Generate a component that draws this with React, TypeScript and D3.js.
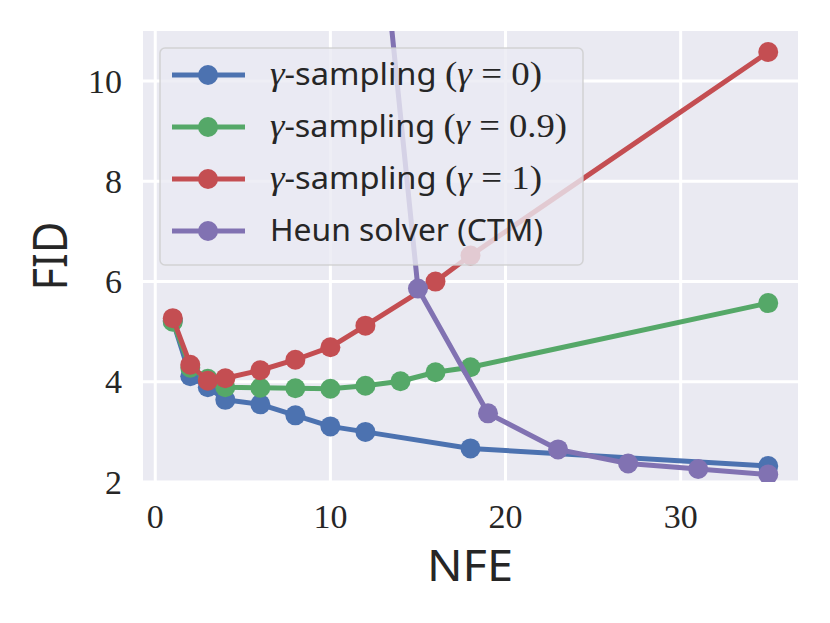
import * as d3 from "d3";
import React from "react";

// NFE values and FID readings per method
const nfeG0 = [1, 2, 3, 4, 6, 8, 10, 12, 18, 35];
const fidG0 = [5.22, 4.11, 3.89, 3.64, 3.55, 3.33, 3.11, 3.0, 2.67, 2.32];
const nfeG09 = [1, 2, 3, 4, 6, 8, 10, 12, 14, 16, 18, 35];
const fidG09 = [5.2, 4.28, 4.06, 3.89, 3.88, 3.87, 3.86, 3.92, 4.01, 4.19, 4.29, 5.57];
const nfeG1 = [1, 2, 3, 4, 6, 8, 10, 12, 16, 18, 35];
const fidG1 = [5.27, 4.34, 4.02, 4.07, 4.23, 4.44, 4.69, 5.12, 6.0, 6.52, 10.58];
const nfeHeun = [11, 15, 19, 23, 27, 31, 35];
const fidHeun = [19.7, 5.86, 3.37, 2.65, 2.37, 2.26, 2.15];

const xTicks = [0, 10, 20, 30];
const yTicks = [2, 4, 6, 8, 10];

const SANS = "'Noto Sans', 'DejaVu Sans', sans-serif";
const SERIF = "'Liberation Serif', 'DejaVu Serif', serif";

type Part = { t: string; serif?: boolean; italic?: boolean };

const gammaLabel = (v: string): Part[] => [
  { t: "γ", serif: true, italic: true },
  { t: "-sampling " },
  { t: "(", serif: true },
  { t: "γ", serif: true, italic: true },
  { t: " = " + v + ")", serif: true },
];

const series: { color: string; nfe: number[]; fid: number[]; label: Part[]; len: number }[] = [
  { color: "#4c72b0", nfe: nfeG0, fid: fidG0, label: gammaLabel("0"), len: 272 },
  { color: "#55a868", nfe: nfeG09, fid: fidG09, label: gammaLabel("0.9"), len: 297 },
  { color: "#c44e52", nfe: nfeG1, fid: fidG1, label: gammaLabel("1"), len: 272 },
  { color: "#8172b2", nfe: nfeHeun, fid: fidHeun, label: [{ t: "Heun solver (CTM)" }], len: 273 },
];

const W = 830;
const H = 623;
const left = 143;
const right = 798;
const top = 31;
const bottom = 482;

export default function App() {
  const x = d3.scaleLinear().domain([-0.7, 36.7]).range([left, right]);
  const y = d3.scaleLinear().domain([2, 11]).range([bottom, top]);

  const line = d3
    .line<[number, number]>()
    .x((d) => x(d[0]))
    .y((d) => y(d[1]));

  return (
    <svg
      width={W}
      height={H}
      style={{ position: "absolute", left: 0, top: 0, background: "#fff" }}
    >
      <defs>
        <clipPath id="plot">
          <rect x={left} y={top} width={right - left} height={bottom - top} />
        </clipPath>
      </defs>

      <rect x={left} y={top} width={right - left} height={bottom - top} fill="#eaeaf2" />

      {/* grid */}
      <g stroke="#fff" strokeWidth={3} clipPath="url(#plot)">
        {xTicks.map((t) => (
          <line key={"gx" + t} x1={x(t)} x2={x(t)} y1={top} y2={bottom} />
        ))}
        {yTicks.map((t) => (
          <line key={"gy" + t} x1={left} x2={right} y1={y(t)} y2={y(t)} />
        ))}
      </g>

      {/* data */}
      <g clipPath="url(#plot)">
        {series.map((s, i) => {
          const pts = s.nfe.map((n, j) => [n, s.fid[j]] as [number, number]);
          return (
            <g key={i}>
              <path d={line(pts) ?? ""} fill="none" stroke={s.color} strokeWidth={5} strokeLinejoin="round" />
              {pts.map((p, j) => (
                <circle key={j} cx={x(p[0])} cy={y(p[1])} r={10} fill={s.color} />
              ))}
            </g>
          );
        })}
      </g>

      {/* tick labels */}
      <g fontFamily={SERIF} fontSize={34} fill="#262626">
        {xTicks.map((t) => (
          <text key={"tx" + t} x={x(t)} y={528} textAnchor="middle">
            {t}
          </text>
        ))}
        {yTicks.map((t) => (
          <text key={"ty" + t} x={122} y={y(t)} textAnchor="end" dominantBaseline="central">
            {t}
          </text>
        ))}
      </g>

      {/* axis labels */}
      <text
        x={470}
        y={581}
        textAnchor="middle"
        fontFamily={SANS}
        fontSize={44}
        fill="#262626"
        textLength={86}
        lengthAdjust="spacingAndGlyphs"
      >
        NFE
      </text>
      <text
        transform="translate(67,256) rotate(-90)"
        textAnchor="middle"
        fontFamily={SANS}
        fontSize={47}
        fill="#262626"
        textLength={69}
        lengthAdjust="spacingAndGlyphs"
      >
        FID
      </text>

      {/* legend */}
      <g>
        <rect
          x={160}
          y={48}
          width={423}
          height={217}
          rx={5}
          fill="#eaeaf2"
          fillOpacity={0.8}
          stroke="#cccccc"
          strokeOpacity={0.8}
          strokeWidth={1.5}
        />
        {series.map((s, i) => {
          const cy = 75 + i * 52;
          return (
            <g key={"lg" + i}>
              <line x1={172} x2={245} y1={cy} y2={cy} stroke={s.color} strokeWidth={5} />
              <circle cx={208} cy={cy} r={10} fill={s.color} />
              <text
                x={270}
                y={cy + 10}
                fontSize={30}
                fill="#262626"
                textLength={s.len}
                lengthAdjust="spacingAndGlyphs"
                style={{ whiteSpace: "pre" }}
              >
                {s.label.map((p, k) => (
                  <tspan
                    key={k}
                    fontFamily={p.serif ? SERIF : SANS}
                    fontSize={p.serif ? 34 : 30}
                    fontStyle={p.italic ? "italic" : "normal"}
                  >
                    {p.t}
                  </tspan>
                ))}
              </text>
            </g>
          );
        })}
      </g>
    </svg>
  );
}
